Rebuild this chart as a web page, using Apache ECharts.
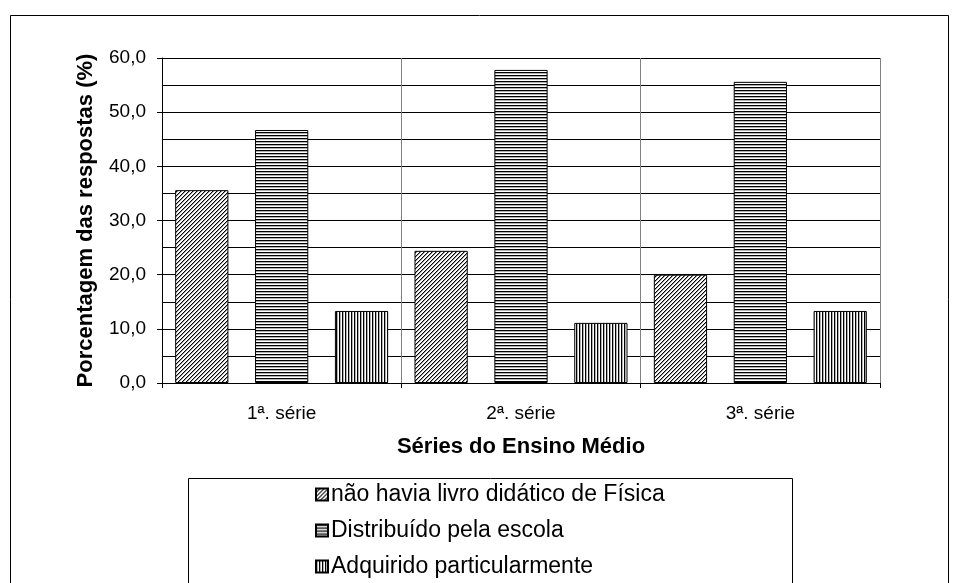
<!DOCTYPE html>
<html>
<head>
<meta charset="utf-8">
<script src="https://cdn.jsdelivr.net/npm/echarts@6/dist/echarts.min.js"></script>
<style>
  html, body { margin: 0; padding: 0; background: #ffffff; }
  #chart { width: 960px; height: 583px; }
</style>
</head>
<body>
<div id="chart"></div>
<script>
// Categories and percentages per answer group
const categories = ['1ª. série', '2ª. série', '3ª. série'];
const semLivro = [35.6, 24.4, 20.0];
const distribuido = [46.7, 57.8, 55.6];
const adquirido = [13.3, 11.1, 13.3];
const seriesNames = [
  'não havia livro didático de Física',
  'Distribuído pela escola',
  'Adquirido particularmente'
];

// Small black & white hatch tiles used as bar fills
function hatch(kind) {
  const size = kind === 'diag' ? 4 : 3;
  const c = document.createElement('canvas');
  c.width = size; c.height = size;
  const ctx = c.getContext('2d');
  ctx.fillStyle = '#ffffff';
  ctx.fillRect(0, 0, size, size);
  if (kind === 'diag') {
    for (let i = 0; i < size; i++) {
      ctx.fillStyle = '#000000';
      ctx.fillRect(i, size - 1 - i, 1, 1);
      ctx.fillStyle = '#9a9a9a';
      ctx.fillRect((i + 1) % size, size - 1 - i, 1, 1);
    }
  } else if (kind === 'horiz') {
    ctx.fillStyle = '#000000';
    ctx.fillRect(0, 0, size, 1);
    ctx.fillStyle = '#b0b0b0';
    ctx.fillRect(0, 1, size, 1);
  } else {
    ctx.fillStyle = '#000000';
    ctx.fillRect(0, 0, 1, size);
    ctx.fillStyle = '#b0b0b0';
    ctx.fillRect(1, 0, 1, size);
  }
  return { image: c, repeat: 'repeat' };
}

const FONT = 'Arial, "Liberation Sans", sans-serif';
const chart = echarts.init(document.getElementById('chart'), null, { renderer: 'canvas' });

function barSeries(name, data, kind) {
  return {
    name: name,
    type: 'bar',
    data: data,
    barGap: '50%',
    barCategoryGap: '11%',
    itemStyle: { color: hatch(kind), borderColor: '#000000', borderWidth: 1 },
    emphasis: { disabled: true },
    animation: false
  };
}

chart.setOption({
  animation: false,
  backgroundColor: '#ffffff',
  textStyle: { fontFamily: FONT, color: '#000000' },
  grid: { left: 162, right: 80, top: 58, bottom: 200, containLabel: false },
  graphic: [
    {
      // outer chart frame
      type: 'rect',
      shape: { x: 10.5, y: 15.5, width: 938, height: 620 },
      style: { fill: 'none', stroke: '#000000', lineWidth: 1 },
      silent: true, z: -10
    },
    {
      // legend frame
      type: 'rect',
      shape: { x: 188.5, y: 478.5, width: 604, height: 160 },
      style: { fill: '#ffffff', stroke: '#000000', lineWidth: 1 },
      silent: true, z: -5
    }
  ],
  legend: {
    orient: 'vertical',
    left: 315,
    top: 483,
    padding: 0,
    itemWidth: 12,
    itemHeight: 12,
    itemGap: 13,
    icon: 'rect',
    selectedMode: false,
    textStyle: { fontFamily: FONT, fontSize: 23, color: '#000000', padding: [0, 0, 0, -2] },
    data: seriesNames
  },
  xAxis: {
    type: 'category',
    data: categories,
    boundaryGap: true,
    name: 'Séries do Ensino Médio',
    nameLocation: 'middle',
    nameGap: 53,
    nameTextStyle: { fontFamily: FONT, fontSize: 22, fontWeight: 'bold', color: '#000000' },
    axisLine: { lineStyle: { color: '#000000', width: 1 } },
    axisTick: { show: true, alignWithLabel: false, length: 5, lineStyle: { color: '#000000' } },
    axisLabel: { fontFamily: FONT, fontSize: 19, color: '#000000', margin: 21 },
    splitLine: { show: true, lineStyle: { color: '#808080', width: 1 } }
  },
  yAxis: {
    type: 'value',
    min: 0,
    max: 60,
    interval: 10,
    name: 'Porcentagem das respostas (%)',
    nameLocation: 'middle',
    nameGap: 65,
    nameTextStyle: { fontFamily: FONT, fontSize: 22, fontWeight: 'bold', color: '#000000' },
    axisLine: { show: true, lineStyle: { color: '#000000', width: 1 } },
    axisTick: { show: true, length: 5, lineStyle: { color: '#000000' } },
    axisLabel: {
      fontFamily: FONT, fontSize: 19, color: '#000000', margin: 16,
      formatter: v => v.toFixed(1).replace('.', ',')
    },
    splitLine: { show: true, lineStyle: { color: '#000000', width: 1 } },
    minorTick: { show: false, splitNumber: 2 },
    minorSplitLine: { show: true, lineStyle: { color: '#000000', width: 1 } }
  },
  series: [
    barSeries(seriesNames[0], semLivro, 'diag'),
    barSeries(seriesNames[1], distribuido, 'horiz'),
    barSeries(seriesNames[2], adquirido, 'vert')
  ]
});
</script>
</body>
</html>
